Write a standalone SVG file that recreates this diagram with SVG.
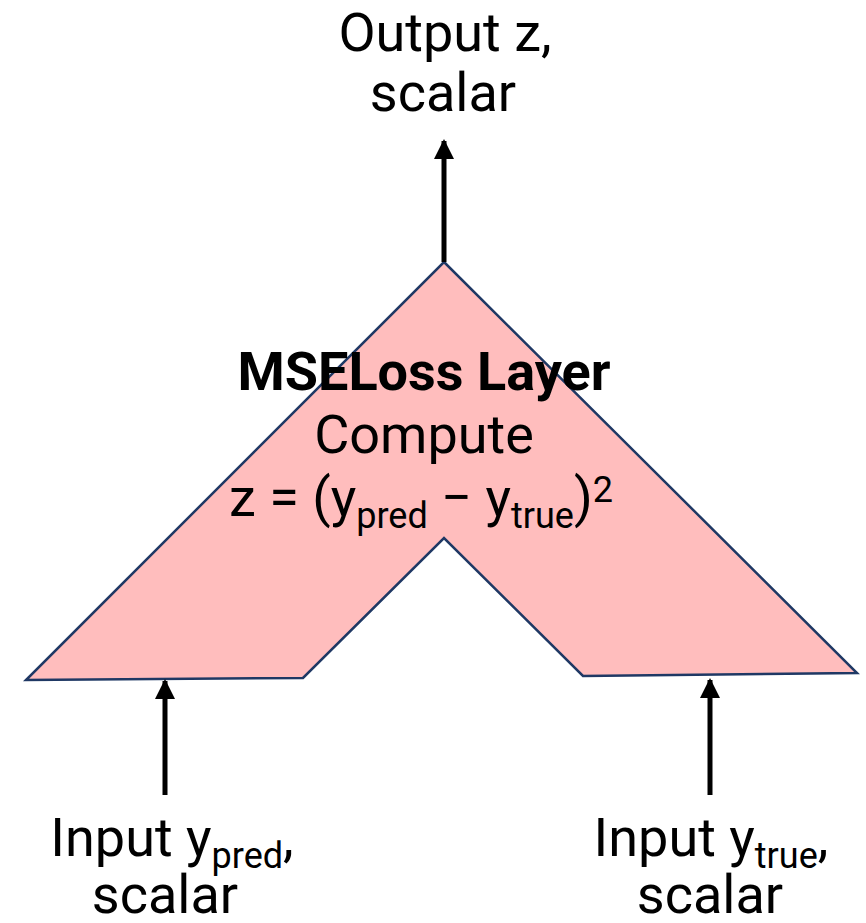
<svg xmlns="http://www.w3.org/2000/svg" width="866" height="923" viewBox="0 0 866 923">
<defs>
<marker id="ah" viewBox="0 0 10 10" refX="9" refY="5" markerWidth="4" markerHeight="4" orient="auto" markerUnits="strokeWidth">
<path d="M0,0 L10,5 L0,10 z" fill="#000"/>
</marker>
<style>
.t{font-family:Roboto,"Liberation Sans",sans-serif;font-size:54px;fill:#000;text-anchor:middle}
.b{font-weight:bold}
.s{font-size:36px}
.c{stroke:#000;stroke-width:5;fill:none;marker-end:url(#ah)}
</style>
</defs>
<rect width="866" height="923" fill="#fff"/>
<g id="layer">
<path d="M444,262 L857,673 L583,676 L444,538 L303,678 L26,680 Z" fill="#FFBDBD" stroke="#1F3864" stroke-width="2.5" stroke-linejoin="miter"/>
<text class="t b" x="424" y="390">MSELoss Layer</text>
<text class="t" x="424" y="453">Compute</text>
<text class="t" x="421" y="516">z = (y<tspan class="s" dy="12">pred</tspan><tspan dy="-12"> − y</tspan><tspan class="s" dy="12">true</tspan><tspan dy="-12">)</tspan><tspan class="s" dy="-14">2</tspan></text>
</g>
<g id="output">
<text class="t" x="445" y="51">Output z,</text>
<text class="t" x="443" y="111">scalar</text>
</g>
<g id="input-pred">
<text class="t" x="172" y="856">Input y<tspan class="s" dy="12">pred</tspan><tspan dy="-12">,</tspan></text>
<text class="t" x="165" y="913">scalar</text>
</g>
<g id="input-true">
<text class="t" x="711" y="856">Input y<tspan class="s" dy="12">true</tspan><tspan dy="-12">,</tspan></text>
<text class="t" x="710" y="913">scalar</text>
</g>
<g id="connectors">
<line class="c" x1="444" y1="262" x2="444" y2="141"/>
<line class="c" x1="165" y1="795" x2="165" y2="681"/>
<line class="c" x1="710" y1="795" x2="710" y2="680"/>
</g>
</svg>
